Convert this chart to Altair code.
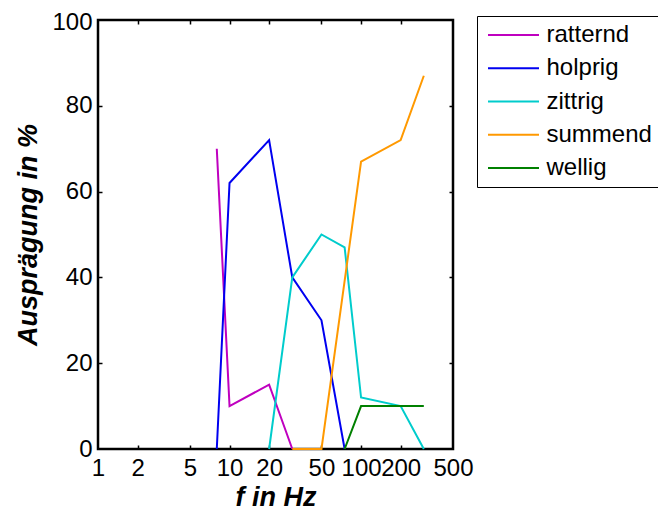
import altair as alt
import pandas as pd

# ---- data ----
series_names = ["ratternd", "holprig", "zittrig", "summend", "wellig"]
series_colors = ["#BF00BF", "#0000F0", "#00CCCC", "#FF9900", "#008000"]

ratternd_f = [8, 10, 20, 30]
ratternd_v = [70, 10, 15, 0]

holprig_f = [8, 10, 20, 30, 50, 75]
holprig_v = [0, 62, 72, 40, 30, 0]

zittrig_f = [20, 30, 50, 75, 100, 200, 300]
zittrig_v = [0, 40, 50, 47, 12, 10, 0]

summend_f = [30, 50, 100, 200, 300]
summend_v = [0, 0, 67, 72, 87]

wellig_f = [75, 100, 200, 300]
wellig_v = [0, 10, 10, 10]

x_tick_labels = [1, 2, 5, 10, 20, 50, 100, 200, 500]
x_inner_ticks = [2, 5, 10, 20, 50, 100, 200]
y_tick_labels = [0, 20, 40, 60, 80, 100]
y_inner_ticks = [20, 40, 60, 80]

x_title = "f in Hz"
y_title = "Ausprägung in %"

# ---- build table ----
rows = []
for name, fs, vs in [
    ("ratternd", ratternd_f, ratternd_v),
    ("holprig", holprig_f, holprig_v),
    ("zittrig", zittrig_f, zittrig_v),
    ("summend", summend_f, summend_v),
    ("wellig", wellig_f, wellig_v),
]:
    for f, v in zip(fs, vs):
        rows.append({"series": name, "f": f, "v": v})
df = pd.DataFrame(rows)

W, H = 355, 429
FONT = "Liberation Sans"

x_scale = alt.Scale(type="log", domain=[1, 500], nice=False)
y_scale = alt.Scale(domain=[0, 100], nice=False)

lines = alt.Chart(df).mark_line(strokeWidth=2).encode(
    x=alt.X(
        "f:Q",
        scale=x_scale,
        axis=alt.Axis(
            orient="bottom", values=x_tick_labels, format="d", ticks=False,
            domain=False, grid=False, labelFont=FONT, labelFontSize=24,
            labelColor="black", labelPadding=7, labelOverlap=False,
            labelBound=False, labelFlush=False,
            title=x_title, titleFont=FONT, titleFontSize=27,
            titleFontStyle="italic", titleFontWeight="bold", titleColor="black",
            titleBaseline="alphabetic", titleY=56,
        ),
    ),
    y=alt.Y(
        "v:Q",
        scale=y_scale,
        axis=alt.Axis(
            orient="left", values=y_tick_labels, ticks=False, domain=False,
            grid=False, labelFont=FONT, labelFontSize=24, labelColor="black",
            labelPadding=6, labelOverlap=False, labelBound=False,
            labelFlush=False,
            labelOffset={"condition": {"test": "datum.value == 100", "value": 2}, "value": 0},
            title=y_title, titleFont=FONT, titleFontSize=27,
            titleFontStyle="italic", titleFontWeight="bold", titleColor="black",
            titleBaseline="alphabetic", titleX=-62,
        ),
    ),
    color=alt.Color(
        "series:N",
        scale=alt.Scale(domain=series_names, range=series_colors),
        legend=alt.Legend(
            orient="none", legendX=379, legendY=-4, title=None,
            symbolType="M-3,0H3", symbolSize=289, symbolStrokeWidth=2,
            symbolOffset=17.5, labelOffset=21, labelFont=FONT,
            labelFontSize=24, labelColor="black", labelLimit=0,
            strokeColor="black", fillColor="white", padding=7,
            rowPadding=9.25,
        ),
    ),
)

tick_style = dict(labels=False, domain=False, grid=False, ticks=True,
                  tickSize=4, tickColor="black", tickWidth=1.5, title=None)

ticks_a = alt.Chart(df).mark_point(opacity=0).encode(
    x=alt.X("f:Q", scale=x_scale,
            axis=alt.Axis(orient="top", offset=-H, values=x_inner_ticks, **tick_style)),
    y=alt.Y("v:Q", scale=y_scale,
            axis=alt.Axis(orient="right", offset=-W, values=y_inner_ticks, **tick_style)),
)
ticks_b = alt.Chart(df).mark_point(opacity=0).encode(
    x=alt.X("f:Q", scale=x_scale,
            axis=alt.Axis(orient="bottom", offset=-H, values=x_inner_ticks, **tick_style)),
    y=alt.Y("v:Q", scale=y_scale,
            axis=alt.Axis(orient="left", offset=-W, values=y_inner_ticks, **tick_style)),
)

chart = (
    alt.layer(lines, ticks_a, ticks_b)
    .resolve_axis(x="independent", y="independent")
    .properties(
        width=W, height=H,
        padding={"left": 90, "top": 12, "right": 205, "bottom": 62},
        autosize=alt.AutoSizeParams(type="none"),
        background="white",
    )
    .configure_view(stroke="black", strokeWidth=2.5)
)

chart.save("out.html", embed_options={"renderer": "svg", "actions": False})
